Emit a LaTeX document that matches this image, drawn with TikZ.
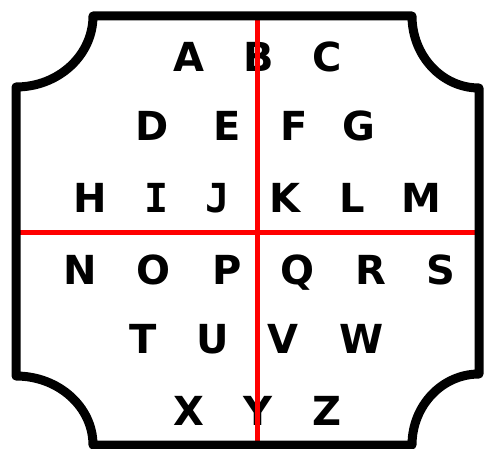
\documentclass[tikz,border=0pt]{standalone}
\usepackage{fontspec}
\setmainfont{DejaVu Sans}
\newfontfamily\serifbar{DejaVu Sans Mono}
\usepackage{tikz}
\usetikzlibrary{positioning}
\tikzset{letter node/.style={anchor=base,inner sep=0pt,font=\fontsize{40}{48}\selectfont\bfseries}}
\tikzset{bar letter/.style={letter node,font=\fontsize{40}{48}\serifbar\bfseries}}
\tikzset{cross line/.style={draw=red,line width=5pt}}
\tikzset{frame line/.style={draw=black,line width=9pt,line join=round}}

\begin{document}
\begin{tikzpicture}[x=1pt,y=-1pt]
\useasboundingbox (0,0) rectangle (487,449);

% letters, row by row
\foreach \l/\x in {A/189,B/259,C/327}{
    \node[letter node] (\l) at (\x,72) {\l};
}
\foreach \l/\x in {D/152,E/227,F/294,G/359}{
    \node[letter node] (\l) at (\x,141) {\l};
}
\foreach \l/\x in {H/90,K/285,L/352,M/421}{
    \node[letter node] (\l) at (\x,212) {\l};
}
% I and J have bars
\node[bar letter] (I) at (157,212) {I};
\node[bar letter] (J) at (218,212) {J};
\foreach \l/\x in {N/80,O/154,P/227,Q/297,R/371,S/441}{
    \node[letter node] (\l) at (\x,284) {\l};
}
\foreach \l/\x in {T/143,U/213,V/283,W/362}{
    \node[letter node] (\l) at (\x,353) {\l};
}
\foreach \l/\x in {X/189,Y/258,Z/327}{
    \node[letter node] (\l) at (\x,425) {\l};
}

% red cross
\draw[cross line] (257,16) -- (257,445);
\draw[cross line] (16,232) -- (479,232);

% frame with cut corners
\draw[frame line] (93,16) -- (412,16)
    .. controls (412,55.8) and (442,88) .. (479,88)
    -- (479,374)
    .. controls (442,374) and (412,405.8) .. (412,445)
    -- (93,445)
    .. controls (93,406.9) and (58.5,376) .. (16,376)
    -- (16,87)
    .. controls (58.5,87) and (93,55.2) .. (93,16) -- cycle;

\end{tikzpicture}
\end{document}
